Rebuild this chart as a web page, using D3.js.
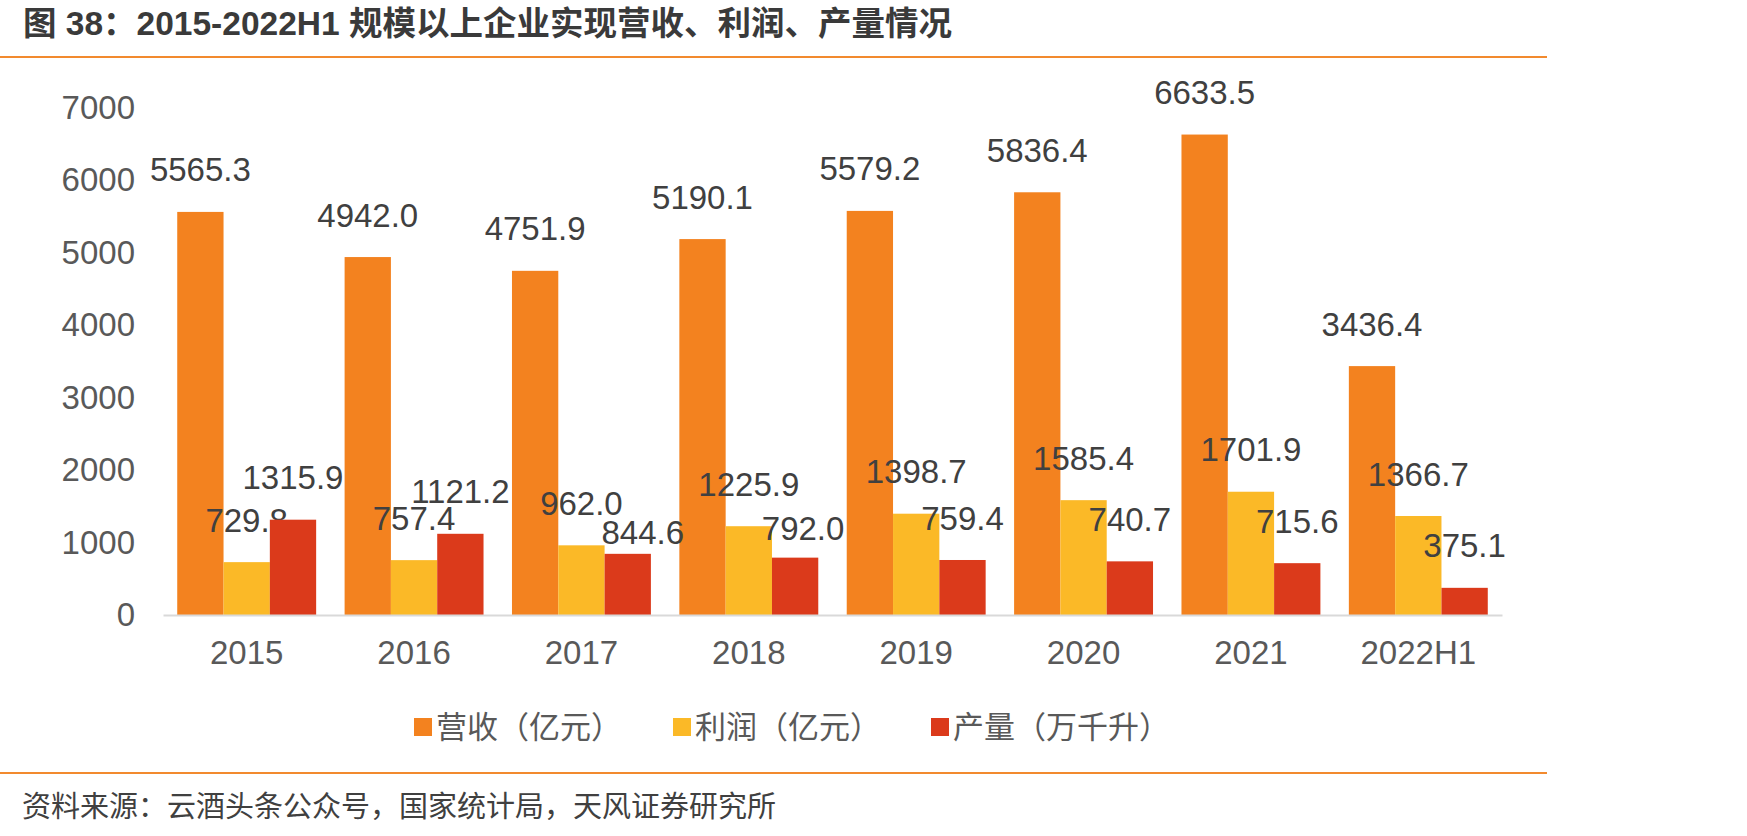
<!DOCTYPE html>
<html>
<head>
<meta charset="utf-8">
<script src="https://cdn.jsdelivr.net/npm/d3@7"></script>
<style>
    body { margin: 0; background: #fff; }
    svg { display: block; }
</style>
</head>
<body>
<svg id="barchart" width="1747" height="836"></svg>
<script>

// Chart data
const titleText = "图 38：2015-2022H1 规模以上企业实现营收、利润、产量情况";
const sourceText = "资料来源：云酒头条公众号，国家统计局，天风证券研究所";
const categories = ["2015", "2016", "2017", "2018", "2019", "2020", "2021", "2022H1"];
const seriesNames = ["营收（亿元）", "利润（亿元）", "产量（万千升）"];
const revenue = [5565.3, 4942.0, 4751.9, 5190.1, 5579.2, 5836.4, 6633.5, 3436.4];
const profit = [729.8, 757.4, 962.0, 1225.9, 1398.7, 1585.4, 1701.9, 1366.7];
const output = [1315.9, 1121.2, 844.6, 792.0, 759.4, 740.7, 715.6, 375.1];
const yTicks = [0, 1000, 2000, 3000, 4000, 5000, 6000, 7000];

class GroupedBarChart {

    static colours = ["#F3821F", "#FBB927", "#DB3A1B"];
    static accent = "#F28A2E";
    static numberFont = "'Liberation Sans', Arial, sans-serif";
    static cjkFont = "'Noto Sans CJK SC', sans-serif";
    static plot = {left: 163, right: 1502, top: 108, bottom: 615};
    static labelGap = 42;
    // Labels that were moved by hand in the original, keyed "series-category": [dx, dy]
    static labelNudge = {"2-2": [15, 21], "2-3": [8, 13]};

    identifier;

    constructor(identifier) {
        this.identifier = identifier;
    }

    draw() {

        const svg = d3.select(`#${this.identifier}`);
        const p = GroupedBarChart.plot;
        const series = [revenue, profit, output];

        // Header and footer
        svg.append("text")
            .attr("x", 23)
            .attr("y", 35)
            .style("font-family", `'Liberation Sans', 'Noto Sans CJK SC', sans-serif`)
            .style("font-weight", "bold")
            .style("font-size", "33.5px")
            .style("fill", "#3a3a3a")
            .text(titleText);
        svg.append("line")
            .attr("x1", 0).attr("x2", 1547)
            .attr("y1", 57).attr("y2", 57)
            .attr("stroke", GroupedBarChart.accent)
            .attr("stroke-width", 2);
        svg.append("line")
            .attr("x1", 0).attr("x2", 1547)
            .attr("y1", 773).attr("y2", 773)
            .attr("stroke", GroupedBarChart.accent)
            .attr("stroke-width", 2);
        svg.append("text")
            .attr("x", 22)
            .attr("y", 817)
            .style("font-family", GroupedBarChart.cjkFont)
            .style("font-size", "29px")
            .style("fill", "#404040")
            .text(sourceText);

        // Scales
        const x = d3.scaleBand()
            .domain(categories)
            .range([p.left, p.right])
            .paddingInner(0.17)
            .paddingOuter(0.085);
        const x1 = d3.scaleBand()
            .domain(d3.range(series.length))
            .range([0, x.bandwidth()]);
        const y = d3.scaleLinear()
            .domain([0, 7000])
            .range([p.bottom, p.top]);

        // Axes
        svg.append("g")
            .attr("transform", `translate(${p.left}, 0)`)
            .call(d3.axisLeft(y).tickValues(yTicks).tickFormat(d3.format("d")).tickSize(0).tickPadding(28))
            .call(g => g.select(".domain").remove())
            .call(g => g.selectAll("text")
                .style("font-family", GroupedBarChart.numberFont)
                .style("font-size", "33px")
                .style("fill", "#595959"));

        // Bars and value labels
        series.forEach((values, i) => {
            const nudge = j => GroupedBarChart.labelNudge[`${i}-${j}`] || [0, 0];
            const group = svg.append("g");
            group.selectAll("rect")
                .data(values)
                .join("rect")
                .attr("x", (d, j) => x(categories[j]) + x1(i))
                .attr("y", d => y(d))
                .attr("width", x1.bandwidth())
                .attr("height", d => y(0) - y(d))
                .attr("fill", GroupedBarChart.colours[i]);
            group.selectAll("text")
                .data(values)
                .join("text")
                .attr("x", (d, j) => x(categories[j]) + x1(i) + x1.bandwidth()/2 + nudge(j)[0])
                .attr("y", (d, j) => y(d) - GroupedBarChart.labelGap + nudge(j)[1])
                .attr("dy", "0.35em")
                .attr("text-anchor", "middle")
                .style("font-family", GroupedBarChart.numberFont)
                .style("font-size", "33px")
                .style("fill", "#404040")
                .text(d => d.toFixed(1));
        });

        svg.append("g")
            .attr("transform", `translate(0, ${p.bottom})`)
            .call(d3.axisBottom(x).tickSize(0).tickSizeOuter(0).tickPadding(26))
            .call(g => g.select(".domain").attr("stroke", "#D9D9D9").attr("stroke-width", 2))
            .call(g => g.selectAll("text")
                .style("font-family", GroupedBarChart.numberFont)
                .style("font-size", "33px")
                .style("fill", "#595959"));

        // Legend
        const legendX = [414, 673, 931];
        const legend = svg.append("g")
            .selectAll("g")
            .data(seriesNames)
            .join("g")
            .attr("transform", (d, i) => `translate(${legendX[i]}, 727)`);
        legend.append("rect")
            .attr("x", 0).attr("y", -9)
            .attr("width", 18).attr("height", 18)
            .attr("fill", (d, i) => GroupedBarChart.colours[i]);
        legend.append("text")
            .attr("x", 22)
            .attr("dy", "0.36em")
            .style("font-family", GroupedBarChart.cjkFont)
            .style("font-size", "31px")
            .style("fill", "#595959")
            .text(d => d);
    }
}

const chart = new GroupedBarChart("barchart");
chart.draw();

</script>
</body>
</html>
